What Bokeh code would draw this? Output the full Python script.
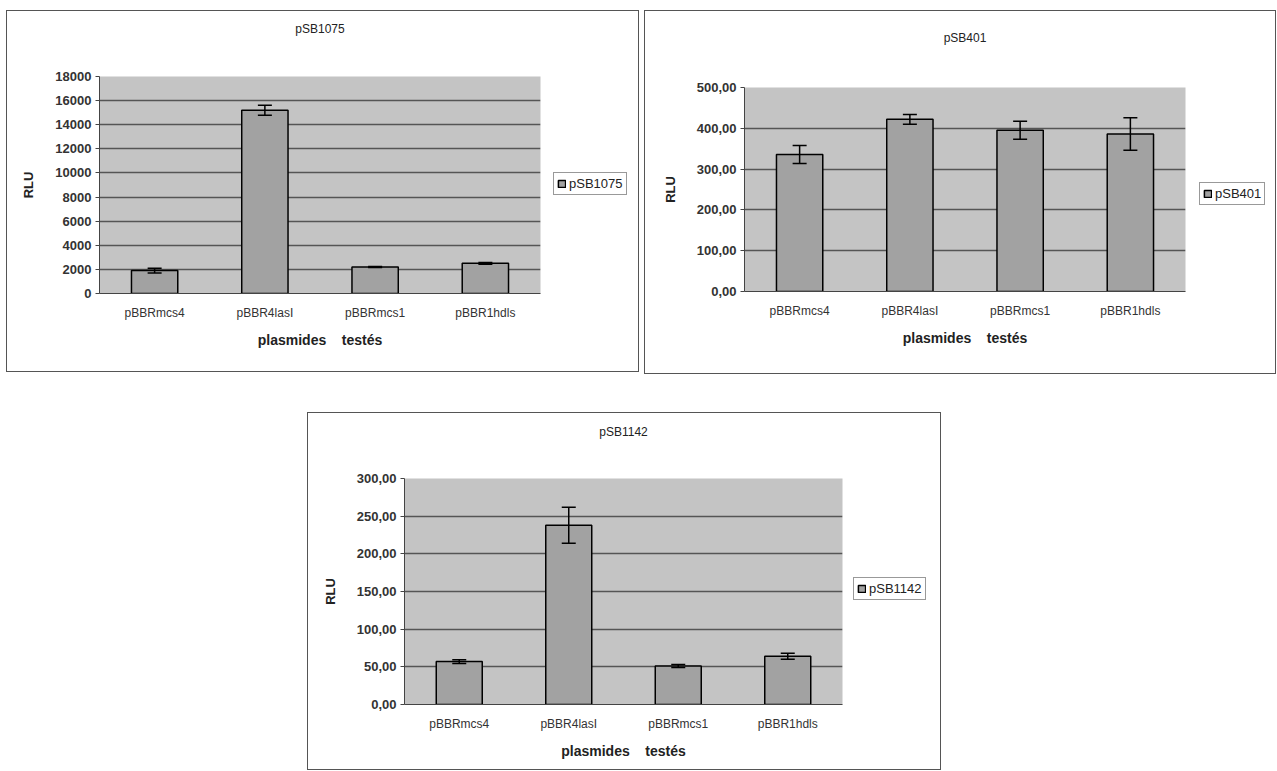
from bokeh.plotting import figure
from bokeh.models import (ColumnDataSource, Whisker, TeeHead, FixedTicker, Legend, LegendItem,
                          CustomJSTickFormatter, Spacer, Title, Range1d)
from bokeh.layouts import column, row
from bokeh.embed import file_html
from bokeh.resources import INLINE

# ---------------- data ----------------
plasmids = ["pBBRmcs4", "pBBR4lasI", "pBBRmcs1", "pBBR1hdls"]

psb1075_values = [1900, 15200, 2200, 2500]
psb1075_errors = [200, 420, 50, 80]
psb1075_ticks = [0, 2000, 4000, 6000, 8000, 10000, 12000, 14000, 16000, 18000]

psb401_values = [336, 422, 395, 386]
psb401_errors = [22, 12, 22, 40]
psb401_ticks = [0, 100, 200, 300, 400, 500]

psb1142_values = [57, 238, 51, 64]
psb1142_errors = [2.5, 24, 2, 4]
psb1142_ticks = [0, 50, 100, 150, 200, 250, 300]

FONT = "Liberation Sans"
FRAME_BG = "#c4c4c4"
BAR_FILL = "#a2a2a2"
GRID = "#555555"
EDGE = "1px solid #555555"
NB = "\u00a0"


def make_panel(name, values, errors, ticks, decimals, chart_w, leg_w, height,
               left, right, top, bottom, title_gap_font, legend_xy):
    src = ColumnDataSource(dict(
        x=plasmids, top=values,
        upper=[v + e for v, e in zip(values, errors)],
        lower=[v - e for v, e in zip(values, errors)],
    ))
    p = figure(x_range=plasmids, y_range=(0, ticks[-1]), width=chart_w, height=height,
               output_backend="svg", toolbar_location=None,
               min_border_left=left, min_border_right=right,
               min_border_top=top, min_border_bottom=bottom,
               background_fill_color=FRAME_BG, border_fill_color="white",
               outline_line_color=None)
    p.x_range.range_padding = 0
    bar_kw = dict(fill_color=BAR_FILL, line_color="black", line_width=1.5)
    p.vbar(x="x", top="top", width=0.42, source=src, **bar_kw)
    wh = Whisker(base="x", upper="upper", lower="lower", source=src,
                 line_color="black", line_width=1.5, level="overlay",
                 upper_head=TeeHead(size=14, line_color="black", line_width=1.5),
                 lower_head=TeeHead(size=14, line_color="black", line_width=1.5))
    p.add_layout(wh)

    # chart title, lifted above the frame by an empty spacer title
    p.title.text = ""
    p.add_layout(Title(text=" ", text_font_size=f"{title_gap_font}px", standoff=0), "above")
    p.add_layout(Title(text=name, align="center", text_font=FONT, text_font_style="normal",
                       text_font_size="12px", text_color="#222222", standoff=0), "above")

    p.xgrid.grid_line_color = None
    p.ygrid.grid_line_color = GRID
    p.ygrid.grid_line_width = 1.6
    p.ygrid.ticker = FixedTicker(ticks=ticks)

    ya = p.yaxis[0]
    ya.ticker = FixedTicker(ticks=ticks)
    if decimals:
        ya.formatter = CustomJSTickFormatter(code="return tick.toFixed(2).replace('.', ',');")
    else:
        ya.formatter = CustomJSTickFormatter(code="return tick.toFixed(0);")
    ya.axis_label = "RLU"
    ya.axis_label_text_font = FONT
    ya.axis_label_text_font_style = "bold"
    ya.axis_label_text_font_size = "13px"
    ya.axis_label_text_color = "#222222"
    ya.axis_label_standoff = 16
    ya.major_label_text_font = FONT
    ya.major_label_text_font_style = "bold"
    ya.major_label_text_font_size = "13px"
    ya.major_label_text_color = "#333333"
    ya.major_label_standoff = 4
    ya.major_tick_out = 4
    ya.major_tick_in = 0
    ya.minor_tick_out = 0
    ya.minor_tick_in = 0
    ya.axis_line_color = "#444444"
    ya.major_tick_line_color = "#444444"

    xa = p.xaxis[0]
    xa.axis_label = "plasmides" + NB * 3 + " testés"
    xa.axis_label_text_font = FONT
    xa.axis_label_text_font_style = "bold"
    xa.axis_label_text_font_size = "14px"
    xa.axis_label_text_color = "#222222"
    xa.axis_label_standoff = 9
    xa.major_label_text_font = FONT
    xa.major_label_text_font_size = "12px"
    xa.major_label_text_color = "#333333"
    xa.major_label_standoff = 12
    xa.major_tick_out = 0
    xa.major_tick_in = 0
    xa.axis_line_color = "#444444"
    p.styles = {"border-left": EDGE, "border-top": EDGE, "border-bottom": EDGE}

    # legend lives in its own narrow figure at the right of the panel
    q = figure(width=leg_w, height=height, output_backend="svg", toolbar_location=None,
               x_axis_type=None, y_axis_type=None,
               x_range=Range1d(0, 1), y_range=Range1d(0, 1),
               min_border_left=0, min_border_right=0,
               min_border_top=top, min_border_bottom=bottom,
               background_fill_color="white", border_fill_color="white",
               outline_line_color=None)
    q.xgrid.grid_line_color = None
    q.ygrid.grid_line_color = None
    dummy = q.vbar(x=[5], top=[1], width=0.5, **bar_kw)
    legend = Legend(items=[LegendItem(label=name, renderers=[dummy])],
                    location=legend_xy, orientation="vertical",
                    label_text_font=FONT, label_text_font_size="13px",
                    label_text_color="#222222",
                    glyph_width=9, glyph_height=9, label_standoff=3,
                    padding=3, spacing=0, margin=0,
                    border_line_color="#333333", border_line_width=1.2,
                    background_fill_color="white", label_height=13)
    q.add_layout(legend)
    q.styles = {"border-right": EDGE, "border-top": EDGE, "border-bottom": EDGE}
    return row(p, q)


panel1 = make_panel("pSB1075", psb1075_values, psb1075_errors, psb1075_ticks, False,
                    538, 95, 362, 92, 5, 65, 80, 35, (9, 98))
panel2 = make_panel("pSB401", psb401_values, psb401_errors, psb401_ticks, True,
                    547, 85, 364, 99, 7, 76, 84, 37, (8, 86))
panel3 = make_panel("pSB1142", psb1142_values, psb1142_errors, psb1142_ticks, True,
                    540, 94, 358, 96, 6, 65, 67, 34, (6, 104))

layout = column(
    Spacer(height=10),
    row(Spacer(width=6), column(panel1), Spacer(width=5), column(panel2)),
    Spacer(height=38),
    row(Spacer(width=307), panel3),
)

open("out.html", "w").write(file_html(layout, INLINE))
